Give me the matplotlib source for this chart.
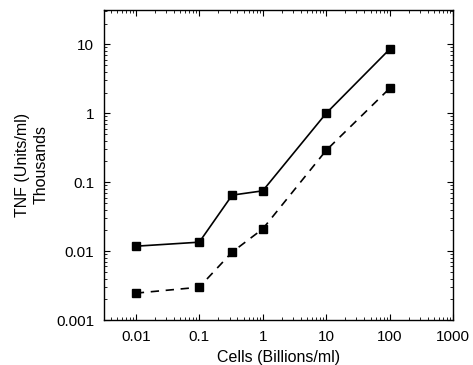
import numpy as np
import matplotlib
matplotlib.use('Agg')
from matplotlib import pyplot as plt
from matplotlib.ticker import LogLocator, FixedLocator, FixedFormatter, NullFormatter

plt.rcParams['font.family'] = ['Liberation Sans', 'DejaVu Sans']

cells = [0.01, 0.1, 0.33, 1, 10, 100]
tnf_solid = [0.0118, 0.0135, 0.065, 0.075, 1.0, 8.5]
tnf_dashed = [0.00246, 0.0030, 0.0097, 0.021, 0.29, 2.3]

xticks = [0.01, 0.1, 1, 10, 100, 1000]
xticklabels = ['0.01', '0.1', '1', '10', '100', '1000']
yticks = [0.001, 0.01, 0.1, 1, 10]
yticklabels = ['0.001', '0.01', '0.1', '1', '10']

fig = plt.figure(figsize=(4.73, 3.65), dpi=100)
ax = fig.add_axes([0.22, 0.123, 0.738, 0.85])

ax.plot(cells, tnf_solid, '-', color='black', lw=1.2, marker='s', ms=6)
ax.plot(cells, tnf_dashed, '--', color='black', lw=1.2, marker='s', ms=6, dashes=(5, 4))

ax.set_xscale('log')
ax.set_yscale('log')
ax.set_xlim(10**-2.5, 1000)
ax.set_ylim(0.001, 10**1.5)

ax.xaxis.set_major_locator(FixedLocator(xticks))
ax.xaxis.set_major_formatter(FixedFormatter(xticklabels))
ax.yaxis.set_major_locator(FixedLocator(yticks))
ax.yaxis.set_major_formatter(FixedFormatter(yticklabels))
ax.xaxis.set_minor_locator(LogLocator(base=10, subs=np.arange(2, 10), numticks=20))
ax.yaxis.set_minor_locator(LogLocator(base=10, subs=np.arange(2, 10), numticks=20))
ax.xaxis.set_minor_formatter(NullFormatter())
ax.yaxis.set_minor_formatter(NullFormatter())

ax.tick_params(which='both', direction='in', top=True, right=True, labelsize=11)
ax.tick_params(which='major', length=4)
ax.tick_params(which='minor', length=2)
ax.tick_params(axis='x', which='major', pad=7)
ax.tick_params(axis='y', which='major', pad=7)
for s in ax.spines.values():
    s.set_linewidth(1.0)

ax.set_xlabel('Cells (Billions/ml)', fontsize=11.5)
ax.xaxis.set_label_coords(0.5, -0.095)
ax.set_ylabel('TNF (Units/ml)\nThousands', fontsize=11.5, linespacing=1.3)
ax.yaxis.set_label_coords(-0.16, 0.5)

plt.savefig('out.png', dpi=100)
